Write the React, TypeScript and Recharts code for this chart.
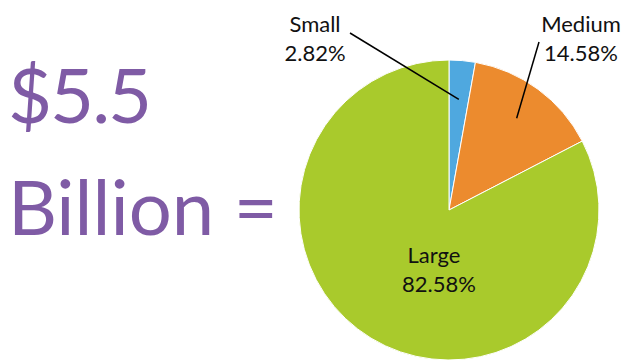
import React from 'react';
import { PieChart, Pie, Cell } from 'recharts';

const categories = ['Small', 'Medium', 'Large'];
const shares = [2.82, 14.58, 82.58];
const sliceColors = ['#4FA8DF', '#EC8B2E', '#A9CA2C'];

const data = categories.map((name, i) => ({ name, value: shares[i] }));

const RAD = Math.PI / 180;

// where the text for each slice goes, relative to the pie centre
const labelSpots: Record<string, { dx: number; dy: number; anchor: string; line?: { r: number; tx: number; ty: number } }> = {
  Small: { dx: -134, dy: -178, anchor: 'middle', line: { r: 111, tx: -99, ty: -177 } },
  Medium: { dx: 132, dy: -178, anchor: 'middle', line: { r: 114, tx: 90, ty: -168 } },
  Large: { dx: -15, dy: 53, anchor: 'middle' },
};

const renderLabel = (props: any) => {
  const { cx, cy, midAngle, name, value } = props;
  const spot = labelSpots[name];
  if (!spot) return null;
  const x = cx + spot.dx;
  const y = cy + spot.dy;
  let line = null;
  if (spot.line) {
    const ix = cx + spot.line.r * Math.cos(-midAngle * RAD);
    const iy = cy + spot.line.r * Math.sin(-midAngle * RAD);
    line = <line x1={cx + spot.line.tx} y1={cy + spot.line.ty} x2={ix} y2={iy} stroke="#000" strokeWidth={1.5} />;
  }
  return (
    <g>
      {line}
      <text x={x} y={y} textAnchor={spot.anchor} fill="#111" fontSize={22} fontFamily="Lato, sans-serif">
        <tspan x={x}>{name}</tspan>
        <tspan x={x + (name === 'Large' ? 5 : 0)} dy={29}>{value.toFixed(2)}%</tspan>
      </text>
    </g>
  );
};

export default function App() {
  return (
    <div style={{ position: 'absolute', left: 0, top: 0, width: 623, height: 360, background: '#fff', overflow: 'hidden' }}>
      <div style={{ position: 'absolute', left: 8, top: 38, fontFamily: 'Lato, sans-serif', fontSize: 76, color: '#7F5BA5', lineHeight: '112px', whiteSpace: 'nowrap' }}>
        <div style={{ letterSpacing: -2 }}>$5.5</div>
        <div>Billion =</div>
      </div>
      <div style={{ position: 'absolute', left: 0, top: 0 }}>
        <PieChart width={623} height={360} margin={{ top: 0, right: 0, bottom: 0, left: 0 }}>
          <Pie
            data={data}
            dataKey="value"
            nameKey="name"
            cx={449}
            cy={210}
            outerRadius={150}
            startAngle={90}
            endAngle={-270}
            stroke="#fff"
            strokeWidth={1}
            label={renderLabel}
            labelLine={false}
            isAnimationActive={false}
          >
            {data.map((d, i) => (
              <Cell key={d.name} fill={sliceColors[i]} />
            ))}
          </Pie>
        </PieChart>
      </div>
    </div>
  );
}
